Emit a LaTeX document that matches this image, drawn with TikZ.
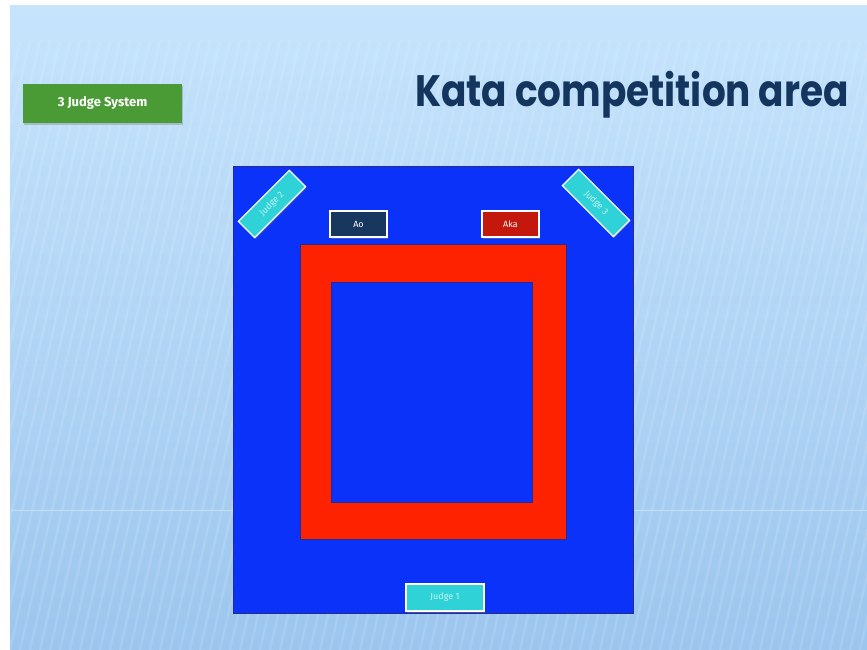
\documentclass[tikz,border=0pt]{standalone}
\usepackage{fontspec}
\setmainfont{Fira Sans}
\newfontfamily\titlefont{Poppins}
\usetikzlibrary{shadows}
\definecolor{bgtop}{HTML}{C6E4FC}
\definecolor{bgbot}{HTML}{9CC6EE}
\definecolor{matblue}{HTML}{0A32F8}
\definecolor{matred}{HTML}{FF2200}
\definecolor{navy}{HTML}{14365E}
\definecolor{aoblue}{HTML}{17375F}
\definecolor{akared}{HTML}{C4180C}
\definecolor{judgecyan}{HTML}{2FD2D6}
\definecolor{judgetext}{HTML}{C8F6F7}
\definecolor{tagreen}{HTML}{4A9B35}
\definecolor{edgedark}{HTML}{2A2A8A}
\tikzset{
  tag/.style={draw=white, line width=1.2pt, text=white, font=\fontsize{9}{10}\selectfont,
    inner sep=0pt, drop shadow={shadow xshift=1pt, shadow yshift=-1.5pt, opacity=0.45}},
  judgebox/.style={tag, fill=judgecyan, text=judgetext, minimum width=78pt, minimum height=27pt},
  cornerjudge/.style={tag, fill=judgecyan, text=judgetext, minimum width=72pt, minimum height=23pt},
  sidebox/.style={tag, minimum width=57pt, minimum height=26pt},
}
\begin{document}
\begin{tikzpicture}[x=1pt,y=-1pt]
\useasboundingbox (0,0) rectangle (867,650);
\fill[white] (0,0) rectangle (867,650);
% background
\shade[top color=bgtop, bottom color=bgbot] (10,6) rectangle (867,650);
\begin{scope}
\clip (10,6) rectangle (867,650);
\foreach \i in {0,...,110} {
  \draw[white, opacity=0.12, line width=2.5pt] ({-200+\i*10},650) -- ({-60+\i*10},40);
}
\fill[bgtop, opacity=0.55] (10,6) rectangle (867,42);
\draw[white, opacity=0.35, line width=0.6pt] (10,510) -- (867,510);
\end{scope}
% heading
\node[fill=tagreen, text=white, font=\bfseries\fontsize{13}{14}\selectfont,
  minimum width=159pt, minimum height=39pt, inner sep=0pt,
  drop shadow={shadow xshift=1pt, shadow yshift=-2pt, opacity=0.4}] (sys) at (102.5,103.5) {3 Judge System};
\node[text=navy, font=\titlefont\bfseries\fontsize{44}{48}\selectfont, anchor=east, inner sep=0pt] (title) at (849,95) {\scalebox{0.85}[1]{Kata competition area}};
% mat
\node[draw=edgedark, line width=0.8pt, fill=matblue, minimum width=400pt, minimum height=447pt, inner sep=0pt] (mat) at (433,389.5) {};
\node[draw=edgedark, line width=0.8pt, fill=matred, minimum width=266pt, minimum height=295pt, inner sep=0pt] (red) at (433,391.5) {};
\node[draw=edgedark, line width=0.8pt, fill=matblue, minimum width=201pt, minimum height=220pt, inner sep=0pt] (inner) at (431.5,392) {};
% labels
\node[sidebox, fill=aoblue] (ao) at (358.5,224) {Ao};
\node[sidebox, fill=akared] (aka) at (510.5,224) {Aka};
\node[judgebox] (j1) at (445,597.5) {Judge 1};
\node[cornerjudge, rotate=45] (j2) at (272,204) {Judge 2};
\node[cornerjudge, rotate=-45] (j3) at (596,203) {Judge 3};
\end{tikzpicture}
\end{document}
